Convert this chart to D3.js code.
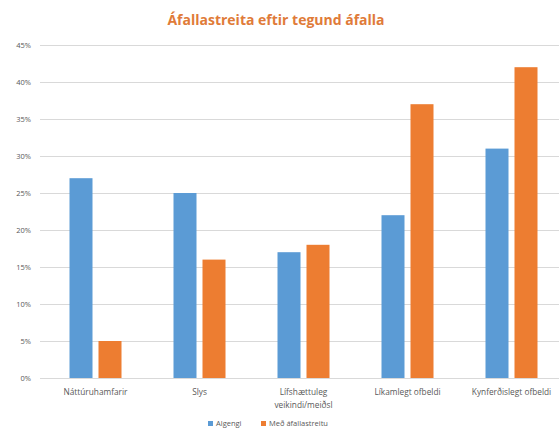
<!DOCTYPE html>
<html>
<head>
<meta charset="utf-8">
<script src="https://cdn.jsdelivr.net/npm/d3@7"></script>
<style>
  body { margin: 0; background: #fff; }
  text { font-family: "Open Sans", "DejaVu Sans", sans-serif; }
</style>
</head>
<body>
<div id="chart"></div>
<script>
var width = 559;
var height = 435;

var categories = ["Náttúruhamfarir", "Slys", "Lífshættuleg\nveikindi/meiðsl", "Líkamlegt ofbeldi", "Kynferðislegt ofbeldi"];
var seriesNames = ["Algengi", "Með áfallastreitu"];
var algengi = [27, 25, 17, 22, 31];
var medStreitu = [5, 16, 18, 37, 42];
var yTicks = [0, 5, 10, 15, 20, 25, 30, 35, 40, 45];
var colors = ["#5b9bd5", "#ed7d31"];

var margin = {top: 45, left: 43.5, right: -4.5, bottom: 57};

var svg = d3.select("#chart")
            .append("svg")
            .attr("width", width)
            .attr("height", height);

var x = d3.scaleBand()
          .domain(categories)
          .range([margin.left, width - margin.right])
          .paddingInner(0)
          .paddingOuter(0);

var y = d3.scaleLinear()
          .domain([0, 45])
          .range([height - margin.bottom, margin.top]);

// gridlines
svg.append("g")
   .selectAll("line")
   .data(yTicks)
   .enter()
   .append("line")
   .attr("x1", 40)
   .attr("x2", width)
   .attr("y1", function(d) { return Math.round(y(d)) + 0.5; })
   .attr("y2", function(d) { return Math.round(y(d)) + 0.5; })
   .attr("stroke", "#d9d9d9")
   .attr("stroke-width", 1);

// y labels
svg.append("g")
   .selectAll("text")
   .data(yTicks)
   .enter()
   .append("text")
   .attr("x", 31)
   .attr("y", function(d) { return y(d) + 3; })
   .attr("text-anchor", "end")
   .attr("font-size", 7.5)
   .attr("fill", "#595959")
   .text(function(d) { return d + "%"; });

var barW = 23;
var gap = 6;

var groups = svg.append("g")
   .selectAll("g")
   .data(categories)
   .enter()
   .append("g")
   .attr("transform", function(d) { return "translate(" + (x(d) + x.bandwidth() / 2) + ",0)"; });

groups.append("rect")
   .attr("x", -barW - gap / 2)
   .attr("width", barW)
   .attr("y", function(d, i) { return y(algengi[i]); })
   .attr("height", function(d, i) { return y(0) - y(algengi[i]); })
   .attr("fill", colors[0]);

groups.append("rect")
   .attr("x", gap / 2)
   .attr("width", barW)
   .attr("y", function(d, i) { return y(medStreitu[i]); })
   .attr("height", function(d, i) { return y(0) - y(medStreitu[i]); })
   .attr("fill", colors[1]);

// category labels
groups.each(function(d) {
  var lines = d.split("\n");
  var t = d3.select(this).append("text")
     .attr("text-anchor", "middle")
     .attr("font-size", 8.3)
     .attr("fill", "#595959");
  lines.forEach(function(line, k) {
    t.append("tspan")
     .attr("x", 0)
     .attr("y", y(0) + 17 + k * 13)
     .text(line);
  });
});

// title
svg.append("text")
   .attr("x", 276)
   .attr("y", 25)
   .attr("text-anchor", "middle")
   .attr("font-size", 14)
   .attr("font-weight", "bold")
   .attr("fill", "#e07b39")
   .text("Áfallastreita eftir tegund áfalla");

// legend
var legend = svg.append("g").attr("transform", "translate(208,426)");
var legX = [0, 53];
seriesNames.forEach(function(name, i) {
  legend.append("rect")
        .attr("x", legX[i])
        .attr("y", -5)
        .attr("width", 5)
        .attr("height", 5)
        .attr("fill", colors[i]);
  legend.append("text")
        .attr("x", legX[i] + 8)
        .attr("y", 0)
        .attr("font-size", 7.5)
        .attr("fill", "#595959")
        .text(name);
});
</script>
</body>
</html>
